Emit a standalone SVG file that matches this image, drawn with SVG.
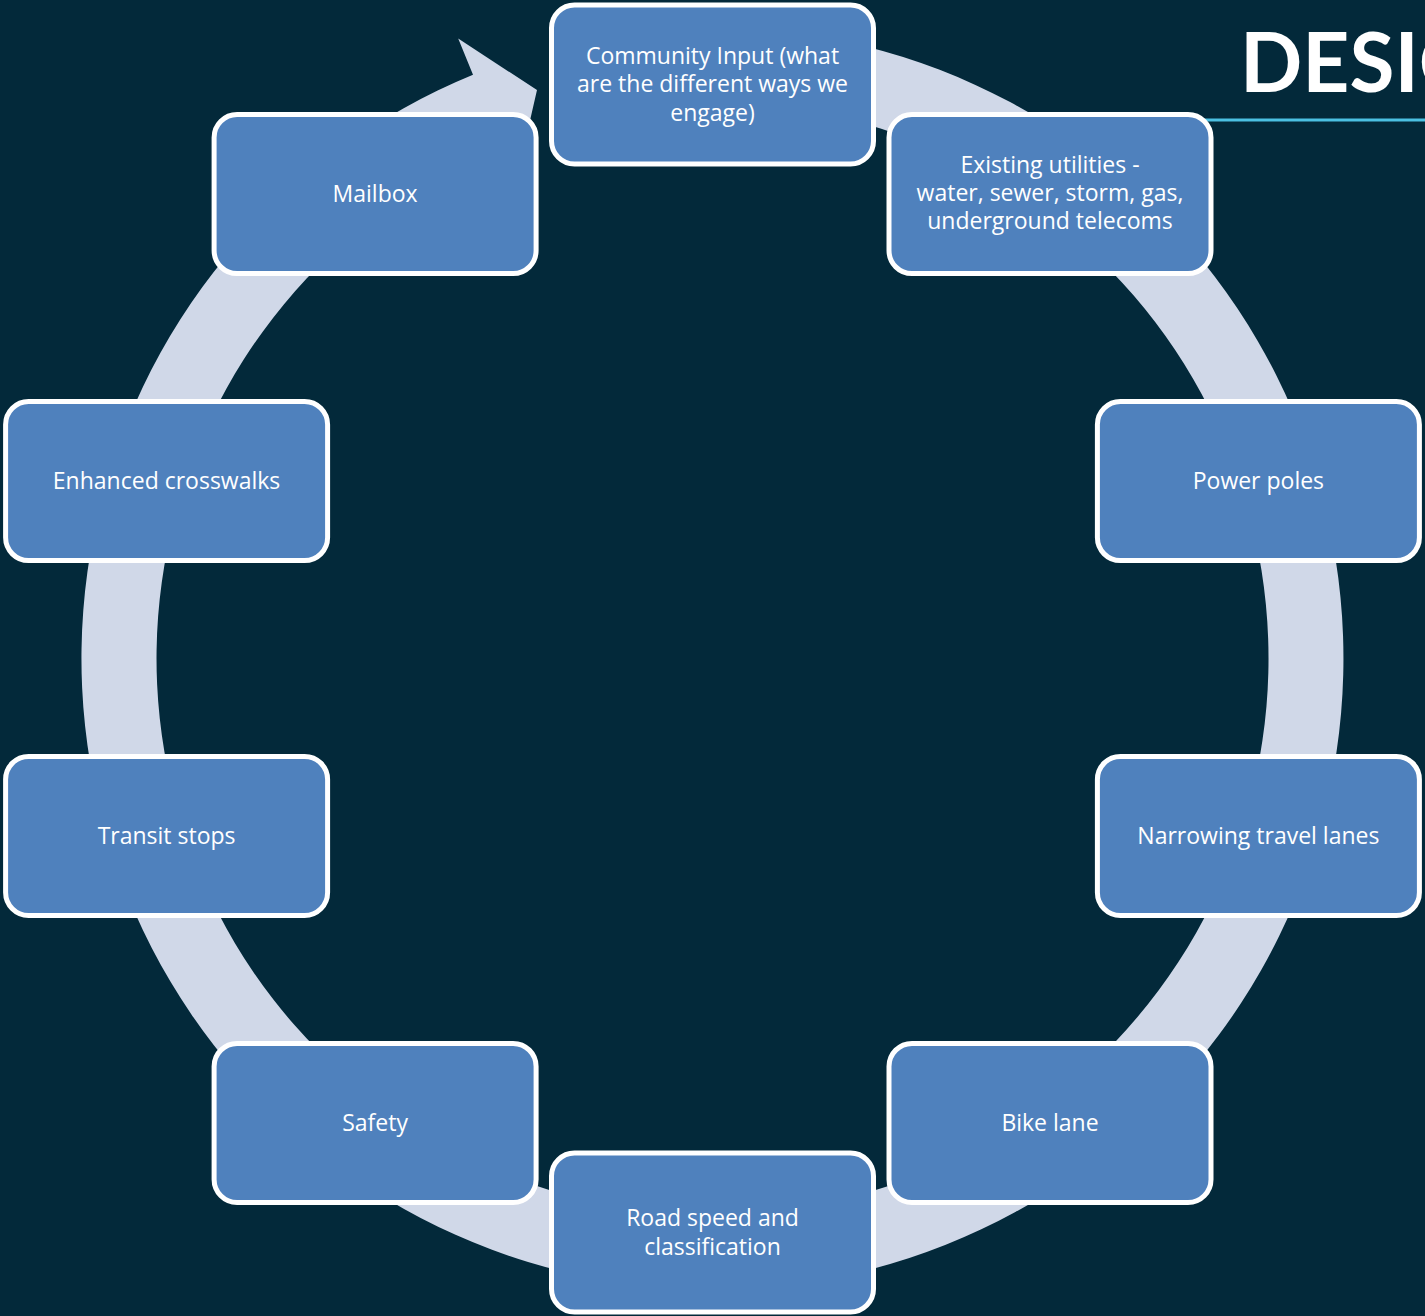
<svg xmlns="http://www.w3.org/2000/svg" width="1425" height="1316" viewBox="0 0 1425 1316">
  <style>
    .box { fill: #4F81BD; stroke: #FFFFFF; stroke-width: 5; }
    .lbl { font-family: "Open Sans", "Noto Sans", "Liberation Sans", sans-serif; font-size: 23px; fill: #FFFFFF; text-anchor: middle; }
    .title { font-family: Lato, "Liberation Sans", sans-serif; font-weight: 700; font-size: 82px; fill: #FFFFFF; }
  </style>
  <rect x="0" y="0" width="1425" height="1316" fill="#03293A"/>
  <g id="title">
    <text class="title" x="1240" y="92">DESIG</text>
    <line x1="1150" y1="120" x2="1425" y2="120" stroke="#4BC0E2" stroke-width="3"/>
  </g>
  <g id="connectors">
    <path d="M 712.5 27.5 A 631 631 0 1 1 473.0 74.7 L 458.2 38.6 L 537 90 L 516.3 180.2 L 501.5 144.1 A 556 556 0 1 0 712.5 102.5 Z" fill="#D0D8E8"/>
  </g>
  <g id="node-community">
    <rect class="box" x="551.5" y="5" width="322" height="159" rx="23"/>
    <text class="lbl" x="712.5" y="63.5">Community Input (what<tspan x="712.5" dy="28.5">are the different ways we</tspan><tspan x="712.5" dy="28.5">engage)</tspan></text>
  </g>
  <g id="node-utilities">
    <rect class="box" x="889" y="114.6" width="322" height="159" rx="23"/>
    <text class="lbl" x="1050" y="172.8">Existing utilities -<tspan x="1050" dy="28.3">water, sewer, storm, gas,</tspan><tspan x="1050" dy="28.3">underground telecoms</tspan></text>
  </g>
  <g id="node-power">
    <rect class="box" x="1097.4" y="401.6" width="322" height="159" rx="23"/>
    <text class="lbl" x="1258.4" y="489">Power poles</text>
  </g>
  <g id="node-narrowing">
    <rect class="box" x="1097.4" y="756.4" width="322" height="159" rx="23"/>
    <text class="lbl" x="1258.4" y="844">Narrowing travel lanes</text>
  </g>
  <g id="node-bike">
    <rect class="box" x="889" y="1043.4" width="322" height="159" rx="23"/>
    <text class="lbl" x="1050" y="1131">Bike lane</text>
  </g>
  <g id="node-road">
    <rect class="box" x="551.5" y="1153" width="322" height="159" rx="23"/>
    <text class="lbl" x="712.5" y="1225.5">Road speed and<tspan x="712.5" dy="29">classification</tspan></text>
  </g>
  <g id="node-safety">
    <rect class="box" x="214.1" y="1043.4" width="322" height="159" rx="23"/>
    <text class="lbl" x="375.1" y="1131">Safety</text>
  </g>
  <g id="node-transit">
    <rect class="box" x="5.6" y="756.4" width="322" height="159" rx="23"/>
    <text class="lbl" x="166.6" y="844">Transit stops</text>
  </g>
  <g id="node-crosswalks">
    <rect class="box" x="5.6" y="401.6" width="322" height="159" rx="23"/>
    <text class="lbl" x="166.6" y="489">Enhanced crosswalks</text>
  </g>
  <g id="node-mailbox">
    <rect class="box" x="214.1" y="114.6" width="322" height="159" rx="23"/>
    <text class="lbl" x="375.1" y="202">Mailbox</text>
  </g>
</svg>
